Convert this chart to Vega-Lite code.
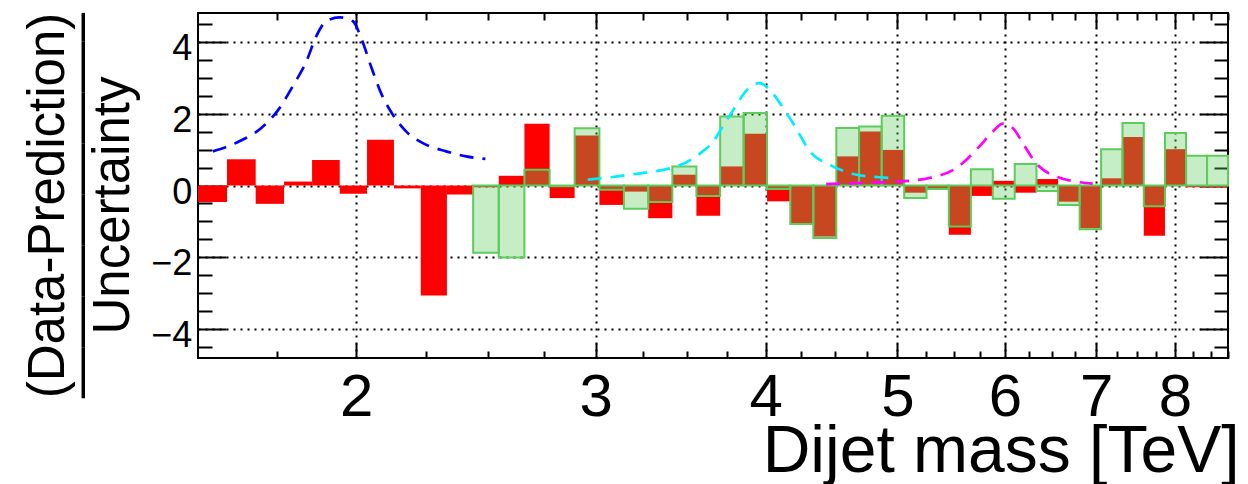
{
  "$schema": "https://vega.github.io/schema/vega-lite/v6.json",
  "width": 1030,
  "height": 345,
  "autosize": {"type": "none"},
  "padding": {"left": 198, "top": 13, "right": 20, "bottom": 126},
  "background": "white",
  "config": {
    "view": {"stroke": "black", "strokeWidth": 2},
    "axis": {
      "domain": false,
      "labelFont": "Liberation Sans",
      "titleFont": "Liberation Sans",
      "labelColor": "black",
      "titleColor": "black",
      "tickColor": "black",
      "tickWidth": 2,
      "titleFontWeight": "normal",
      "labelOverlap": false,
      "labelFlush": false,
      "labelBound": false
    }
  },
  "datasets": {
    "bins": [
      {"lo": 1.530, "hi": 1.607, "red": -0.46, "green": null},
      {"lo": 1.607, "hi": 1.687, "red": 0.73, "green": null},
      {"lo": 1.687, "hi": 1.770, "red": -0.51, "green": null},
      {"lo": 1.770, "hi": 1.856, "red": 0.11, "green": null},
      {"lo": 1.856, "hi": 1.945, "red": 0.71, "green": null},
      {"lo": 1.945, "hi": 2.037, "red": -0.23, "green": null},
      {"lo": 2.037, "hi": 2.132, "red": 1.27, "green": null},
      {"lo": 2.132, "hi": 2.231, "red": -0.08, "green": null},
      {"lo": 2.231, "hi": 2.332, "red": -3.06, "green": null},
      {"lo": 2.332, "hi": 2.438, "red": -0.25, "green": null},
      {"lo": 2.438, "hi": 2.546, "red": -0.05, "green": -1.87},
      {"lo": 2.546, "hi": 2.659, "red": 0.27, "green": -2.0},
      {"lo": 2.659, "hi": 2.775, "red": 1.72, "green": 0.44},
      {"lo": 2.775, "hi": 2.895, "red": -0.35, "green": -0.02},
      {"lo": 2.895, "hi": 3.019, "red": 1.39, "green": 1.59},
      {"lo": 3.019, "hi": 3.147, "red": -0.54, "green": -0.12},
      {"lo": 3.147, "hi": 3.279, "red": -0.17, "green": -0.65},
      {"lo": 3.279, "hi": 3.416, "red": -0.91, "green": -0.46},
      {"lo": 3.416, "hi": 3.558, "red": 0.30, "green": 0.53},
      {"lo": 3.558, "hi": 3.704, "red": -0.84, "green": -0.29},
      {"lo": 3.704, "hi": 3.854, "red": 0.53, "green": 1.92},
      {"lo": 3.854, "hi": 4.010, "red": 1.44, "green": 2.02},
      {"lo": 4.010, "hi": 4.171, "red": -0.44, "green": -0.10},
      {"lo": 4.171, "hi": 4.337, "red": -1.09, "green": -1.07},
      {"lo": 4.337, "hi": 4.509, "red": -1.42, "green": -1.46},
      {"lo": 4.509, "hi": 4.686, "red": 0.81, "green": 1.60},
      {"lo": 4.686, "hi": 4.869, "red": 1.50, "green": 1.64},
      {"lo": 4.869, "hi": 5.058, "red": 0.99, "green": 1.94},
      {"lo": 5.058, "hi": 5.253, "red": -0.20, "green": -0.35},
      {"lo": 5.253, "hi": 5.455, "red": -0.10, "green": -0.10},
      {"lo": 5.455, "hi": 5.663, "red": -1.37, "green": -1.14},
      {"lo": 5.663, "hi": 5.877, "red": -0.29, "green": 0.45},
      {"lo": 5.877, "hi": 6.099, "red": 0.13, "green": -0.37},
      {"lo": 6.099, "hi": 6.328, "red": -0.20, "green": 0.60},
      {"lo": 6.328, "hi": 6.564, "red": 0.18, "green": -0.15},
      {"lo": 6.564, "hi": 6.808, "red": -0.45, "green": -0.54},
      {"lo": 6.808, "hi": 7.060, "red": -1.19, "green": -1.22},
      {"lo": 7.060, "hi": 7.320, "red": 0.20, "green": 1.01},
      {"lo": 7.320, "hi": 7.589, "red": 1.35, "green": 1.74},
      {"lo": 7.589, "hi": 7.866, "red": -1.40, "green": -0.58},
      {"lo": 7.866, "hi": 8.152, "red": 1.01, "green": 1.46},
      {"lo": 8.152, "hi": 8.447, "red": -0.05, "green": 0.83},
      {"lo": 8.447, "hi": 8.752, "red": -0.05, "green": 0.83}
    ],
    "sig": [
      {"s": "b", "m": 1.569, "v": 0.95},
      {"s": "b", "m": 1.641, "v": 1.23},
      {"s": "b", "m": 1.703, "v": 1.60},
      {"s": "b", "m": 1.757, "v": 2.16},
      {"s": "b", "m": 1.796, "v": 2.76},
      {"s": "b", "m": 1.838, "v": 3.45},
      {"s": "b", "m": 1.869, "v": 4.15},
      {"s": "b", "m": 1.901, "v": 4.57},
      {"s": "b", "m": 1.944, "v": 4.68},
      {"s": "b", "m": 1.989, "v": 4.57},
      {"s": "b", "m": 2.017, "v": 4.10},
      {"s": "b", "m": 2.051, "v": 3.31},
      {"s": "b", "m": 2.086, "v": 2.57},
      {"s": "b", "m": 2.128, "v": 1.97},
      {"s": "b", "m": 2.177, "v": 1.50},
      {"s": "b", "m": 2.239, "v": 1.18},
      {"s": "b", "m": 2.329, "v": 0.95},
      {"s": "b", "m": 2.409, "v": 0.81},
      {"s": "b", "m": 2.489, "v": 0.74},
      {"s": "c", "m": 2.960, "v": 0.16},
      {"s": "c", "m": 3.177, "v": 0.30},
      {"s": "c", "m": 3.457, "v": 0.56},
      {"s": "c", "m": 3.530, "v": 0.73},
      {"s": "c", "m": 3.596, "v": 0.95},
      {"s": "c", "m": 3.661, "v": 1.22},
      {"s": "c", "m": 3.700, "v": 1.50},
      {"s": "c", "m": 3.787, "v": 2.10},
      {"s": "c", "m": 3.885, "v": 2.70},
      {"s": "c", "m": 3.958, "v": 2.85},
      {"s": "c", "m": 4.030, "v": 2.66},
      {"s": "c", "m": 4.099, "v": 2.29},
      {"s": "c", "m": 4.205, "v": 1.64},
      {"s": "c", "m": 4.313, "v": 0.94},
      {"s": "c", "m": 4.461, "v": 0.57},
      {"s": "c", "m": 4.641, "v": 0.32},
      {"s": "c", "m": 4.850, "v": 0.23},
      {"s": "c", "m": 4.950, "v": 0.21},
      {"s": "m", "m": 4.432, "v": 0.04},
      {"s": "m", "m": 4.716, "v": 0.07},
      {"s": "m", "m": 5.018, "v": 0.11},
      {"s": "m", "m": 5.279, "v": 0.21},
      {"s": "m", "m": 5.523, "v": 0.48},
      {"s": "m", "m": 5.746, "v": 1.09},
      {"s": "m", "m": 5.877, "v": 1.50},
      {"s": "m", "m": 5.977, "v": 1.72},
      {"s": "m", "m": 6.079, "v": 1.60},
      {"s": "m", "m": 6.183, "v": 1.18},
      {"s": "m", "m": 6.324, "v": 0.62},
      {"s": "m", "m": 6.541, "v": 0.25},
      {"s": "m", "m": 6.960, "v": 0.05}
    ]
  },
  "layer": [
    {
      "layer": [
        {
          "data": {"name": "bins"},
          "mark": {"type": "bar", "fill": "#ff0000", "stroke": null},
          "encoding": {
            "x": {
              "field": "lo", "type": "quantitative",
              "scale": {"type": "log", "domain": [1.53, 8.752], "nice": false, "zero": false},
              "axis": {
                "orient": "bottom",
                "values": [2, 3, 4, 5, 6, 7, 8],
                "format": "d",
                "labelFontSize": 60,
                "labelPadding": 25.6,
                "labelBaseline": "top",
                "tickSize": -15,
                "grid": true,
                "gridColor": "black",
                "gridDash": [2, 5],
                "gridWidth": 2,
                "title": "Dijet mass [TeV]",
                "titleFontSize": 66,
                "titleAlign": "right",
                "titleAnchor": "end",
                "titleBaseline": "alphabetic",
                "titleX": 1041,
                "titleY": 113.7
              }
            },
            "x2": {"field": "hi"},
            "y": {
              "field": "red", "type": "quantitative",
              "scale": {"domain": [-4.8, 4.8], "nice": false, "zero": false},
              "axis": {
                "orient": "left",
                "values": [-4, -2, 0, 2, 4],
                "format": "d",
                "labelFontSize": 36,
                "labelPadding": 34.3,
                "labelBaseline": "middle",
                "labelOffset": 6.5,
                "tickSize": -28,
                "grid": true,
                "gridColor": "black",
                "gridDash": [2, 5],
                "gridWidth": 2,
                "title": ["(Data-Prediction)", "\u2014\u2014\u2014\u2014\u2014\u2014\u2014\u2013", "Uncertainty"],
                "titleFontSize": 51,
                "titleLineHeight": 32.5,
                "titleAngle": 270,
                "titleAlign": "center",
                "titleBaseline": "alphabetic",
                "titleX": -135,
                "titleY": 192
              }
            },
            "y2": {"datum": 0}
          }
        },
        {
          "data": {"name": "bins"},
          "transform": [{"filter": "datum.green != null"}],
          "mark": {"type": "bar", "fill": "#5ccc5c", "fillOpacity": 0.35, "stroke": "#5ccc5c", "strokeWidth": 2},
          "encoding": {
            "x": {"field": "lo", "type": "quantitative", "scale": {"type": "log", "domain": [1.53, 8.752], "nice": false, "zero": false}},
            "x2": {"field": "hi"},
            "y": {"field": "green", "type": "quantitative"},
            "y2": {"datum": 0}
          }
        },
        {
          "mark": {"type": "rule", "color": "black", "strokeWidth": 2},
          "encoding": {"y": {"datum": 0, "type": "quantitative"}}
        },
        {
          "data": {"name": "sig"},
          "mark": {"type": "line", "strokeWidth": 2.7, "strokeDash": [14, 9], "interpolate": "monotone"},
          "encoding": {
            "x": {"field": "m", "type": "quantitative", "scale": {"type": "log", "domain": [1.53, 8.752], "nice": false, "zero": false}},
            "y": {"field": "v", "type": "quantitative"},
            "color": {"field": "s", "type": "nominal", "scale": {"domain": ["b", "c", "m"], "range": ["#0000ff", "#00eeff", "#ff00ff"]}, "legend": null}
          }
        }
      ]
    },
    {
      "data": {"name": "bins"},
      "mark": {"type": "point", "opacity": 0},
      "encoding": {
        "x": {
          "field": "lo", "type": "quantitative",
          "scale": {"type": "log", "domain": [1.53, 8.752], "nice": false, "zero": false},
          "axis": {"orient": "bottom", "values": [1.75, 2.25, 2.5, 2.75, 3.25, 3.5, 3.75, 4.25, 4.5, 4.75, 5.25, 5.5, 5.75, 6.25, 6.5, 6.75, 7.25, 7.5, 7.75, 8.25, 8.5, 8.75], "labels": false, "title": null, "grid": false, "tickSize": -7}
        },
        "y": {
          "field": "red", "type": "quantitative",
          "axis": {"orient": "left", "values": [-4.5, -3.5, -3, -2.5, -1.5, -1, -0.5, 0.5, 1, 1.5, 2.5, 3, 3.5, 4.5], "labels": false, "title": null, "grid": false, "tickSize": -14}
        }
      }
    },
    {
      "data": {"name": "bins"},
      "mark": {"type": "point", "opacity": 0},
      "encoding": {
        "x": {
          "field": "lo", "type": "quantitative",
          "scale": {"type": "log", "domain": [1.53, 8.752], "nice": false, "zero": false},
          "axis": {"orient": "top", "values": [2, 3, 4, 5, 6, 7, 8], "labels": false, "title": null, "grid": false, "tickSize": -15}
        },
        "y": {
          "field": "red", "type": "quantitative",
          "axis": {"orient": "right", "values": [-4, -2, 0, 2, 4], "labels": false, "title": null, "grid": false, "tickSize": -28}
        }
      }
    },
    {
      "data": {"name": "bins"},
      "mark": {"type": "point", "opacity": 0},
      "encoding": {
        "x": {
          "field": "lo", "type": "quantitative",
          "scale": {"type": "log", "domain": [1.53, 8.752], "nice": false, "zero": false},
          "axis": {"orient": "top", "values": [1.75, 2.25, 2.5, 2.75, 3.25, 3.5, 3.75, 4.25, 4.5, 4.75, 5.25, 5.5, 5.75, 6.25, 6.5, 6.75, 7.25, 7.5, 7.75, 8.25, 8.5, 8.75], "labels": false, "title": null, "grid": false, "tickSize": -7}
        },
        "y": {
          "field": "red", "type": "quantitative",
          "axis": {"orient": "right", "values": [-4.5, -3.5, -3, -2.5, -1.5, -1, -0.5, 0.5, 1, 1.5, 2.5, 3, 3.5, 4.5], "labels": false, "title": null, "grid": false, "tickSize": -14}
        }
      }
    }
  ],
  "resolve": {"axis": {"x": "independent", "y": "independent"}}
}
